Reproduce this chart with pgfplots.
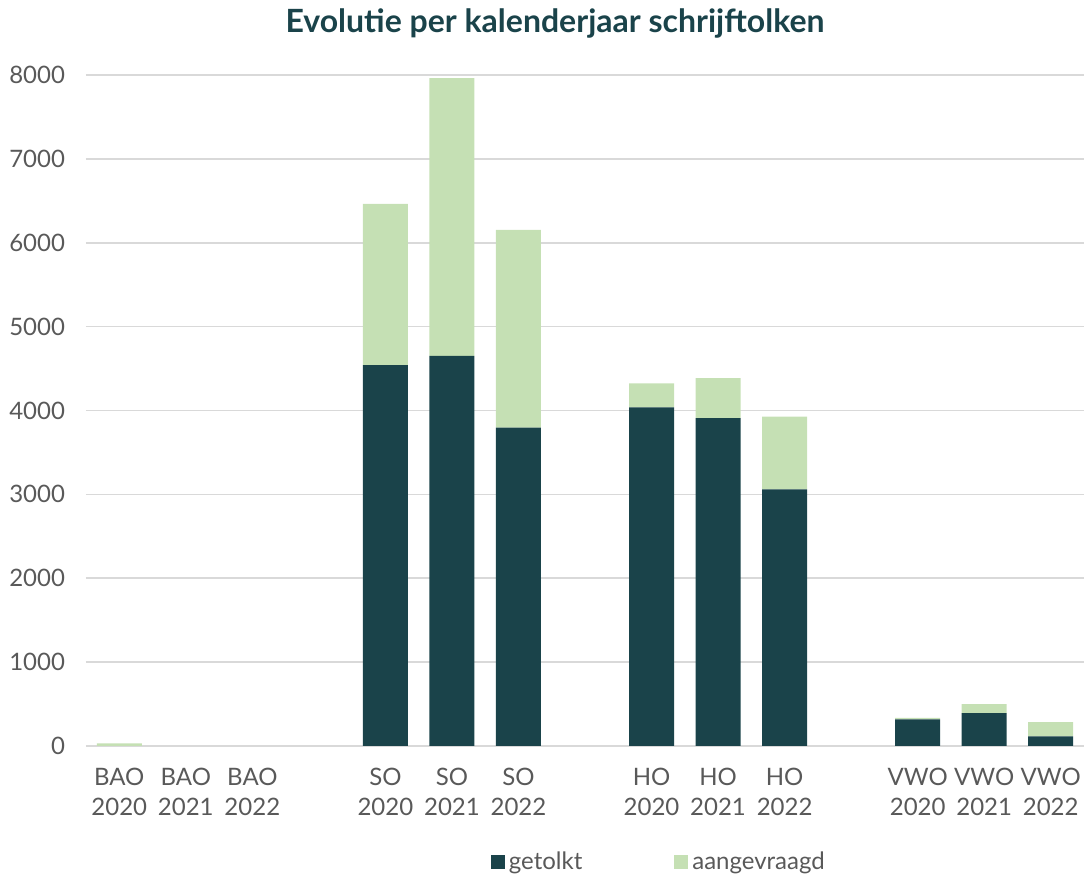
\documentclass[border=0pt]{standalone}
\usepackage{pgfplots}
\pgfplotsset{compat=1.18}
\usepackage{fontspec}
\setmainfont{Lato}
\definecolor{dark}{HTML}{1A434A}
\definecolor{light}{HTML}{C5E0B4}
\definecolor{lbl}{HTML}{595959}
\definecolor{gridc}{HTML}{D9D9D9}
\begin{document}
\begin{tikzpicture}
\path[use as bounding box] (0pt,0pt) rectangle (543.5pt,438pt);
\node[font=\bfseries\fontsize{16}{19}\selectfont, text=dark] at (277.5pt,426pt) {Evolutie per kalenderjaar schrijftolken};
\begin{axis}[
  at={(43pt,65pt)}, anchor=south west,
  scale only axis, width=499pt, height=335.5pt,
  ybar stacked, bar width=22.5pt,
  xmin=-0.5, xmax=14.5, ymin=0, ymax=8000,
  xtick={0,1,2,4,5,6,8,9,10,12,13,14},
  xticklabels={{BAO\\2020},{BAO\\2021},{BAO\\2022},{SO\\2020},{SO\\2021},{SO\\2022},{HO\\2020},{HO\\2021},{HO\\2022},{VWO\\2020},{VWO\\2021},{VWO\\2022}},
  ytick={0,1000,...,8000},
  major tick length=0pt,
  axis line style={draw=none},
  ymajorgrids, grid style={gridc, line width=0.8pt},
  scaled y ticks=false,
  /pgf/number format/assume math mode=true,
  yticklabel={\pgfmathprintnumber[fixed,1000 sep={}]{\tick}},
  ticklabel style={font=\fontsize{12}{15}\selectfont, text=lbl},
  xticklabel style={align=center, yshift=-7.5pt},
  yticklabel style={xshift=-7pt},
  legend style={at={(0.575,-0.173)}, anchor=center, draw=none, fill=none,
    legend columns=2, font=\fontsize{12}{14}\selectfont, text=lbl,
    /tikz/every even column/.append style={column sep=44pt}},
  legend image code/.code={\fill[#1] (0pt,-3.5pt) rectangle (7pt,3.5pt);},
]
\addplot[fill=dark, draw=none] coordinates {(0,0) (1,0) (2,0) (4,4542) (5,4650) (6,3795) (8,4038) (9,3910) (10,3060) (12,318) (13,393) (14,116)};
\addplot[fill=light, draw=none] coordinates {(0,30) (1,0) (2,0) (4,1920) (5,3314) (6,2357) (8,286) (9,477) (10,866) (12,16) (13,107) (14,170)};
\legend{getolkt, aangevraagd}
\end{axis}
\end{tikzpicture}
\end{document}
